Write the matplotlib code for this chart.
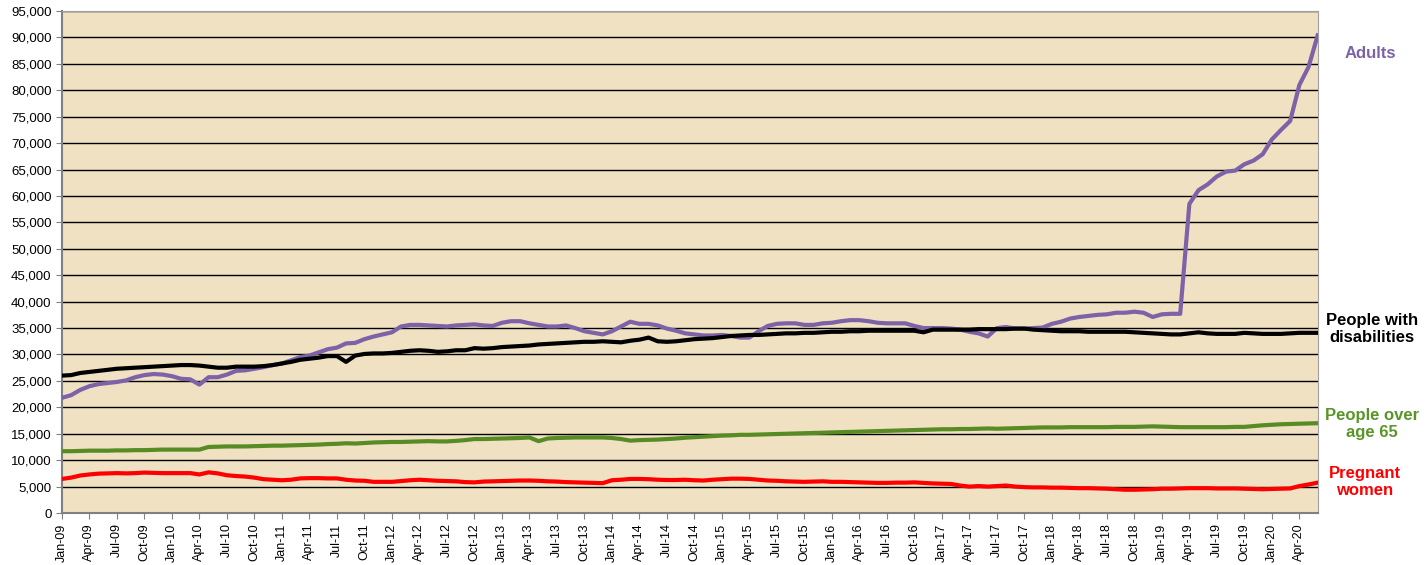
import pandas as pd
import matplotlib
matplotlib.use("Agg")
from matplotlib import pyplot as plt
from matplotlib.ticker import FuncFormatter, MultipleLocator

# monthly values Jan-09 .. Jun-20
months = pd.date_range("2009-01-01", "2020-06-01", freq="MS")
month_labels = [d.strftime("%b-%y") for d in months]

adults = [21800, 22300, 23300, 24000, 24400, 24600, 24800, 25100, 25700, 26100, 26300, 26200,
          25900, 25400, 25300, 24300, 25700, 25700, 26200, 26900, 27000, 27300, 27600, 28000,
          28300, 28900, 29500, 29800, 30400, 31000, 31300, 32100, 32200, 32900, 33400, 33800,
          34200, 35300, 35600, 35600, 35500, 35400, 35300, 35500, 35600, 35700, 35500, 35400,
          36000, 36300, 36300, 35900, 35600, 35300, 35300, 35500, 35000, 34400, 34100, 33800,
          34400, 35300, 36200, 35800, 35800, 35500, 34900, 34500, 34000, 33800, 33600, 33600,
          33700, 33500, 33200, 33200, 34400, 35400, 35800, 35900, 35900, 35600, 35600, 35900,
          36000, 36300, 36500, 36500, 36300, 36000, 35900, 35900, 35900, 35400, 35000, 35000,
          35000, 34900, 34700, 34300, 34000, 33400, 35000, 35200, 34900, 34900, 35000, 35100,
          35800, 36200, 36800, 37100, 37300, 37500, 37600, 37900, 37900, 38100, 37900, 37100,
          37600, 37700, 37700, 58500, 61100, 62200, 63700, 64600, 64800, 66000, 66700, 67900,
          70700, 72500, 74200, 81000, 84400, 90400]

disabilities = [26000, 26100, 26500, 26700, 26900, 27100, 27300, 27400, 27500, 27600, 27700, 27800,
                27900, 28000, 28000, 27900, 27700, 27500, 27500, 27700, 27700, 27700, 27800, 28000,
                28300, 28600, 29000, 29200, 29400, 29700, 29700, 28600, 29800, 30100, 30200, 30200,
                30300, 30500, 30700, 30800, 30700, 30500, 30600, 30800, 30800, 31200, 31100, 31200,
                31400, 31500, 31600, 31700, 31900, 32000, 32100, 32200, 32300, 32400, 32400, 32500,
                32400, 32300, 32600, 32800, 33200, 32500, 32400, 32500, 32700, 32900, 33000, 33100,
                33300, 33500, 33600, 33700, 33700, 33800, 33900, 34000, 34000, 34100, 34100, 34200,
                34300, 34300, 34400, 34400, 34500, 34500, 34500, 34500, 34500, 34500, 34200, 34700,
                34700, 34700, 34700, 34700, 34800, 34800, 34800, 34800, 34900, 34900, 34700, 34600,
                34500, 34400, 34400, 34400, 34300, 34300, 34300, 34300, 34300, 34200, 34100, 34000,
                33900, 33800, 33800, 34000, 34200, 34000, 33900, 33900, 33900, 34100, 34000, 33900,
                33900, 33900, 34000, 34100, 34100, 34100]

over_65 = [11700, 11700, 11750, 11800, 11800, 11800, 11850, 11850, 11900, 11900, 11950, 12000,
           12000, 12000, 12000, 12000, 12500, 12550, 12600, 12600, 12600, 12650, 12700, 12750,
           12750, 12800, 12850, 12900, 12950, 13050, 13100, 13200, 13150, 13250, 13350, 13400,
           13450, 13450, 13500, 13550, 13600, 13550, 13550, 13650, 13800, 14000, 14000, 14050,
           14100, 14150, 14200, 14300, 13600, 14100, 14200, 14250, 14300, 14300, 14300, 14300,
           14200, 14000, 13700, 13800, 13850, 13900, 14000, 14100, 14250, 14350, 14450, 14550,
           14650, 14700, 14800, 14800, 14850, 14900, 14950, 15000, 15050, 15100, 15150, 15200,
           15250, 15300, 15350, 15400, 15450, 15500, 15550, 15600, 15650, 15700, 15750, 15800,
           15850, 15850, 15900, 15900, 15950, 16000, 15950, 16000, 16050, 16100, 16150, 16200,
           16200, 16200, 16250, 16250, 16250, 16250, 16250, 16300, 16300, 16300, 16350, 16400,
           16350, 16300, 16250, 16250, 16250, 16250, 16250, 16250, 16300, 16300, 16450, 16600,
           16700, 16800, 16850, 16900, 16950, 17000]

pregnant = [6450, 6700, 7100, 7300, 7450, 7500, 7550, 7500, 7550, 7650, 7600, 7550,
            7550, 7550, 7550, 7300, 7700, 7500, 7150, 7000, 6900, 6700, 6400, 6300,
            6200, 6300, 6550, 6600, 6600, 6550, 6550, 6300, 6150, 6100, 5900, 5900,
            5900, 6050, 6200, 6300, 6200, 6100, 6050, 6000, 5850, 5800, 5950, 6000,
            6050, 6100, 6150, 6150, 6100, 6000, 5950, 5850, 5800, 5750, 5700, 5650,
            6200, 6300, 6450, 6450, 6400, 6300, 6250, 6250, 6300, 6200, 6150, 6300,
            6400, 6500, 6500, 6450, 6300, 6150, 6100, 6000, 5950, 5900, 5950, 6000,
            5900, 5900, 5850, 5800, 5750, 5700, 5700, 5750, 5750, 5800, 5700, 5600,
            5550, 5500, 5200, 5000, 5100, 5000, 5100, 5200, 5000, 4900, 4850, 4850,
            4800, 4800, 4750, 4700, 4700, 4650, 4600, 4500, 4400, 4400, 4450, 4500,
            4600, 4600, 4650, 4700, 4700, 4700, 4650, 4650, 4650, 4600, 4550, 4500,
            4550, 4600, 4650, 5100, 5400, 5750]

series_names = ["Adults", "People with\ndisabilities", "People over\nage 65", "Pregnant\nwomen"]

plt.rcParams["font.family"] = ["Liberation Sans", "DejaVu Sans"]

fig = plt.figure(figsize=(14.27, 5.65), dpi=100)
ax = fig.add_axes([0.0434, 0.092, 0.880, 0.8885])
ax.set_facecolor("#EFE1C2")

x = list(range(len(months)))
ax.plot(x, adults, color="#7E62A8", lw=3, solid_joinstyle="round", zorder=3)
ax.plot(x, disabilities, color="black", lw=3, solid_joinstyle="round", zorder=4)
ax.plot(x, over_65, color="#578C24", lw=3, solid_joinstyle="round", zorder=3)
ax.plot(x, pregnant, color="#FF0000", lw=3, solid_joinstyle="round", zorder=3)

ax.set_xlim(0, len(months) - 1)
ax.set_ylim(0, 95000)
ax.yaxis.set_major_locator(MultipleLocator(5000))
ax.yaxis.set_major_formatter(FuncFormatter(lambda v, p: f"{int(v):,}"))
ax.grid(axis="y", color="black", lw=1)
ax.set_axisbelow(True)

ax.set_xticks(x[::3])
ax.set_xticklabels(month_labels[::3], rotation=90, fontsize=9)
ax.tick_params(axis="y", labelsize=9.5, length=4, color="#808080")
ax.tick_params(axis="x", length=4, color="#808080")

for side in ["top", "right"]:
    ax.spines[side].set_color("#A0A0A0")
for side in ["left", "bottom"]:
    ax.spines[side].set_color("#808080")
    ax.spines[side].set_linewidth(1.5)

# series labels at the right
label_style = dict(fontsize=12, fontweight="bold", ha="center", va="center",
                   linespacing=1.2, transform=fig.transFigure)
fig.text(1370 / 1427, 1 - 53 / 565, series_names[0], color="#7E62A8", **label_style)
fig.text(1372 / 1427, 1 - 329 / 565, series_names[1], color="black", **label_style)
fig.text(1372 / 1427, 1 - 424 / 565, series_names[2], color="#5A9528", **label_style)
fig.text(1365 / 1427, 1 - 482 / 565, series_names[3], color="#FF0000", **label_style)

fig.savefig("out.png", dpi=100)
